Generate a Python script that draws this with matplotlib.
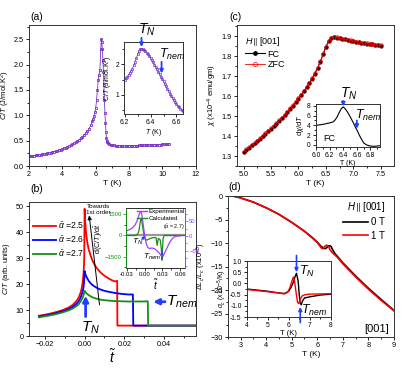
import numpy as np
import matplotlib
matplotlib.use('Agg')
import matplotlib.pyplot as plt
from matplotlib.ticker import MultipleLocator, FormatStrFormatter
from matplotlib.lines import Line2D

plt.rcParams['font.family'] = ['Liberation Sans', 'DejaVu Sans']
plt.rcParams['mathtext.fontset'] = 'custom'
plt.rcParams['mathtext.rm'] = 'Liberation Sans'
plt.rcParams['mathtext.it'] = 'Liberation Sans:italic'
plt.rcParams['mathtext.bf'] = 'Liberation Sans:bold'
plt.rcParams['axes.linewidth'] = 0.7
plt.rcParams['axes.edgecolor'] = '#333333'

purple = '#7B35C8'
purple2 = '#A040FF'
blue = '#2040FF'
green = '#1A8C1A'

# ---- (a) specific heat ----
T_a = [2.0, 2.1, 2.2, 2.3, 2.4, 2.5, 2.6, 2.7, 2.8, 2.9, 3.0, 3.1, 3.2, 3.3, 3.4, 3.5,
       3.6, 3.7, 3.8, 3.9, 4.0, 4.1, 4.2, 4.3, 4.4, 4.5, 4.6, 4.7, 4.8, 4.9, 5.0, 5.1,
       5.2, 5.3, 5.4, 5.5, 5.6, 5.7, 5.8, 5.85, 5.9, 5.95, 6.0, 6.05, 6.1, 6.15, 6.2,
       6.25, 6.3, 6.33, 6.36, 6.4, 6.43, 6.46, 6.49, 6.52, 6.55, 6.58, 6.61, 6.64, 6.67,
       6.7, 6.75, 6.8, 6.9, 7.0, 7.1, 7.2, 7.3, 7.4, 7.5, 7.6, 7.7, 7.8, 7.9, 8.0, 8.1,
       8.2, 8.3, 8.4, 8.5, 8.6, 8.7, 8.8, 8.9, 9.0, 9.1, 9.2, 9.3, 9.4, 9.5, 9.6, 9.7,
       9.8, 9.9, 10.0, 10.1, 10.2, 10.3, 10.4]
C_a = [0.19, 0.195, 0.2, 0.205, 0.21, 0.215, 0.22, 0.225, 0.23, 0.235, 0.24, 0.25, 0.26,
       0.265, 0.275, 0.285, 0.295, 0.305, 0.315, 0.325, 0.34, 0.35, 0.365, 0.38, 0.395,
       0.41, 0.43, 0.45, 0.47, 0.49, 0.52, 0.55, 0.58, 0.61, 0.65, 0.69, 0.74, 0.8, 0.88,
       0.93, 0.99, 1.06, 1.15, 1.3, 1.5, 1.7, 1.8, 1.9, 2.3, 2.5, 2.45, 2.3, 2.1, 1.85,
       1.6, 1.3, 1.05, 0.85, 0.68, 0.56, 0.5, 0.47, 0.45, 0.435, 0.42, 0.415, 0.41, 0.405,
       0.405, 0.4, 0.4, 0.4, 0.4, 0.4, 0.4, 0.4, 0.4, 0.4, 0.405, 0.405, 0.405, 0.41, 0.41,
       0.41, 0.41, 0.415, 0.415, 0.415, 0.42, 0.42, 0.42, 0.42, 0.425, 0.425, 0.425, 0.43,
       0.43, 0.43, 0.435, 0.435]

T_ai = [6.20, 6.21, 6.22, 6.23, 6.24, 6.25, 6.26, 6.27, 6.28, 6.29, 6.30, 6.31, 6.32,
        6.33, 6.34, 6.35, 6.36, 6.37, 6.38, 6.39, 6.40, 6.41, 6.42, 6.43, 6.44, 6.45,
        6.46, 6.47, 6.48, 6.49, 6.50, 6.51, 6.52, 6.53, 6.54, 6.55, 6.56, 6.57, 6.58,
        6.59, 6.60, 6.61, 6.62, 6.63, 6.64, 6.65]
C_ai = [1.50, 1.55, 1.60, 1.66, 1.72, 1.78, 1.86, 1.96, 2.08, 2.20, 2.32, 2.42, 2.48,
        2.50, 2.49, 2.46, 2.42, 2.37, 2.32, 2.26, 2.20, 2.13, 2.06, 1.99, 1.91, 1.83,
        1.75, 1.67, 1.60, 1.52, 1.44, 1.36, 1.28, 1.20, 1.12, 1.04, 0.97, 0.90, 0.83,
        0.76, 0.70, 0.65, 0.60, 0.56, 0.52, 0.49]

# ---- (b) model curves ----
t_r = [-0.023, -0.020, -0.017, -0.014, -0.011, -0.008, -0.006, -0.004, -0.003, -0.002,
       -0.0015, -0.001, -0.0005, -0.0002, 0.0, 0.0003, 0.0007, 0.001, 0.0015, 0.002,
       0.003, 0.004, 0.005, 0.006, 0.008, 0.010, 0.012, 0.014, 0.0155, 0.0164, 0.0165, 0.056]
c_r = [7.8, 8.2, 8.7, 9.3, 10.0, 11.0, 12.0, 13.6, 14.8, 16.8, 18.3, 20.5, 24.5, 30.0,
       49.0, 44.0, 40.0, 38.0, 35.5, 33.5, 31.0, 29.0, 27.5, 26.3, 24.5, 23.2, 22.2, 21.4,
       21.0, 21.3, 4.0, 4.0]
t_bl = [-0.023, -0.020, -0.017, -0.014, -0.011, -0.008, -0.006, -0.004, -0.003, -0.002,
        -0.001, -0.0005, -0.0002, 0.0, 0.0005, 0.001, 0.002, 0.003, 0.004, 0.006, 0.008,
        0.010, 0.013, 0.016, 0.019, 0.022, 0.0243, 0.0245, 0.056]
c_bl = [7.5, 7.9, 8.3, 8.9, 9.5, 10.4, 11.2, 12.5, 13.4, 14.8, 17.0, 19.0, 21.5, 25.0,
        23.6, 22.7, 21.3, 20.3, 19.6, 18.6, 17.9, 17.4, 16.9, 16.5, 16.2, 16.0, 16.0, 4.0, 4.0]
t_g = [-0.023, -0.020, -0.017, -0.014, -0.011, -0.008, -0.006, -0.004, -0.003, -0.002,
       -0.001, -0.0005, 0.0, 0.0005, 0.001, 0.002, 0.003, 0.004, 0.006, 0.008, 0.010,
       0.014, 0.018, 0.022, 0.026, 0.030, 0.0318, 0.032, 0.056]
c_g = [7.2, 7.6, 8.0, 8.5, 9.1, 9.9, 10.6, 11.6, 12.3, 13.3, 14.8, 15.9, 17.4, 16.8, 16.4,
       15.8, 15.3, 14.9, 14.4, 14.0, 13.8, 13.5, 13.4, 13.3, 13.3, 13.3, 13.4, 4.0, 4.0]
alpha_labels = [r'$\bar{\alpha}$ =2.5', r'$\bar{\alpha}$ =2.6', r'$\bar{\alpha}$ =2.7']

# (b) inset: derivative
t_calc = [-0.031, -0.015, -0.012, -0.010, -0.008, -0.0065, -0.005, -0.003, -0.001, 0.001,
          0.003, 0.006, 0.010, 0.015, 0.019, 0.021, 0.023, 0.026, 0.028, 0.029, 0.030,
          0.031, 0.033, 0.068]
d_calc = [0, 0, 80, 300, 800, 1200, 1050, 500, 0, -250, -330, -280, -200, -150, -150,
          -700, -200, -300, -900, -1750, -1000, -200, 0, 0]
t_exp = [-0.030, -0.025, -0.020, -0.016, -0.013, -0.010, -0.008, -0.0065, -0.005, -0.003,
         -0.001, 0.001, 0.003, 0.005, 0.008, 0.012, 0.016, 0.020, 0.024, 0.027, 0.029,
         0.031, 0.034, 0.038, 0.042, 0.046, 0.050, 0.055, 0.060]
d_exp = [18, 22, 28, 38, 50, 68, 80, 82, 72, 45, 15, -10, -28, -38, -42, -40, -42, -48,
         -56, -63, -68, -66, -55, -38, -22, -10, -3, 0, 0]

# ---- (c) susceptibility ----
T_c = [5.00, 5.05, 5.10, 5.15, 5.20, 5.25, 5.30, 5.35, 5.40, 5.45, 5.50, 5.55, 5.60,
       5.65, 5.70, 5.75, 5.80, 5.85, 5.90, 5.95, 6.00, 6.05, 6.10, 6.15, 6.20, 6.25,
       6.30, 6.35, 6.40, 6.45, 6.50, 6.55, 6.60, 6.65, 6.70, 6.75, 6.80, 6.85, 6.90,
       6.95, 7.00, 7.05, 7.10, 7.15, 7.20, 7.25, 7.30, 7.35, 7.40, 7.45, 7.50]
chi_fc = [1.320, 1.331, 1.342, 1.353, 1.364, 1.375, 1.387, 1.399, 1.411, 1.423, 1.436,
          1.449, 1.462, 1.476, 1.490, 1.505, 1.520, 1.536, 1.552, 1.569, 1.587, 1.605,
          1.624, 1.644, 1.665, 1.687, 1.712, 1.740, 1.772, 1.808, 1.845, 1.874, 1.890,
          1.893, 1.892, 1.889, 1.886, 1.883, 1.880, 1.877, 1.874, 1.871, 1.869, 1.866,
          1.864, 1.862, 1.860, 1.858, 1.856, 1.854, 1.852]
chi_zfc = [1.322, 1.333, 1.344, 1.355, 1.366, 1.377, 1.389, 1.401, 1.413, 1.425, 1.438,
           1.451, 1.464, 1.478, 1.492, 1.507, 1.522, 1.538, 1.554, 1.571, 1.589, 1.607,
           1.626, 1.646, 1.667, 1.689, 1.714, 1.742, 1.774, 1.810, 1.846, 1.875, 1.891,
           1.894, 1.893, 1.890, 1.887, 1.884, 1.881, 1.878, 1.875, 1.872, 1.870, 1.867,
           1.865, 1.863, 1.861, 1.859, 1.857, 1.855, 1.853]

T_ci = [6.00, 6.05, 6.10, 6.15, 6.20, 6.25, 6.28, 6.31, 6.34, 6.37, 6.40, 6.43, 6.46,
        6.49, 6.52, 6.55, 6.58, 6.61, 6.64, 6.67, 6.70, 6.74, 6.78, 6.82, 6.86, 6.90, 6.94]
dchi = [4.0, 4.1, 4.2, 4.35, 4.5, 4.7, 5.1, 5.7, 6.6, 7.4, 7.8, 7.4, 6.8, 6.1, 5.3, 4.5,
        3.6, 2.8, 1.9, 1.1, 0.4, 0.0, -0.2, -0.3, -0.3, -0.25, -0.2]

# ---- (d) thermal expansion ----
T_d = [2.7, 3.0, 3.5, 4.0, 4.5, 5.0, 5.5, 5.8, 6.0, 6.1, 6.15, 6.2, 6.25, 6.3, 6.35, 6.4,
       6.45, 6.5, 6.55, 6.6, 6.7, 6.8, 7.0, 7.5, 8.0, 8.5, 9.0]
dL_0T = [0.0, -0.4, -1.3, -2.5, -3.9, -5.6, -7.5, -8.8, -9.8, -10.4, -10.7, -10.9, -11.1,
         -11.2, -11.1, -10.8, -10.6, -10.6, -10.8, -11.4, -12.3, -12.9, -14.2, -17.0, -19.6,
         -22.0, -24.3]
dL_1T = [0.0, -0.4, -1.3, -2.5, -3.9, -5.6, -7.5, -8.9, -9.9, -10.6, -11.0, -11.2, -11.0,
         -10.7, -10.5, -10.5, -10.8, -11.4, -11.8, -12.1, -12.6, -13.1, -14.4, -17.2, -19.8,
         -22.2, -24.4]

T_di_0T = [4.0, 4.5, 5.0, 5.5, 5.8, 6.0, 6.1, 6.2, 6.3, 6.37, 6.45, 6.5, 6.55, 6.6, 6.65,
           6.75, 7.0, 7.5, 8.0]
a_0T = [-0.25, -0.3, -0.35, -0.42, -0.45, -0.35, -0.2, 0.0, 0.3, 0.45, 0.1, -0.5, -0.9,
        -0.95, -0.8, -0.65, -0.6, -0.52, -0.48]
T_di_1T = [4.0, 4.5, 5.0, 5.5, 5.8, 5.95, 6.05, 6.15, 6.22, 6.28, 6.35, 6.42, 6.48, 6.55,
           6.65, 6.8, 7.0, 7.5, 8.0]
a_1T = [-0.27, -0.32, -0.37, -0.43, -0.47, -0.4, -0.2, 0.1, 0.28, 0.1, -0.4, -0.85, -0.9,
        -0.7, -0.55, -0.5, -0.48, -0.47, -0.46]


def style(ax, xmaj, xmin, ymaj, ymin, fs=5.2):
    ax.xaxis.set_major_locator(MultipleLocator(xmaj))
    ax.xaxis.set_minor_locator(MultipleLocator(xmin))
    ax.yaxis.set_major_locator(MultipleLocator(ymaj))
    ax.yaxis.set_minor_locator(MultipleLocator(ymin))
    ax.tick_params(which='both', direction='out', top=False, right=False,
                   labelsize=fs, width=0.6, pad=1.2)
    ax.tick_params(which='major', length=2.5)
    ax.tick_params(which='minor', length=1.4)


def arrow(ax, xy, xytext, color=blue, lw=1.6, ms=6):
    ax.annotate('', xy=xy, xytext=xytext, annotation_clip=False,
                arrowprops=dict(arrowstyle='-|>', color=color, lw=lw,
                                mutation_scale=ms, shrinkA=0, shrinkB=0))


fig = plt.figure(figsize=(4.15, 3.74), dpi=100)

# (a)
ax = fig.add_axes([0.0699, 0.556, 0.402, 0.377])
ax.plot(T_a, C_a, '-s', color=purple, ms=2.0, mfc='none', mew=0.6, lw=0.6)
ax.set_xlim(2, 12)
ax.set_ylim(0, 2.78)
style(ax, 2, 1, 0.5, 0.25)
ax.set_xlabel('T (K)', fontsize=6, labelpad=1.5)
ax.set_ylabel(r'$C/T$ (J/mol.K$^2$)', fontsize=5.5, labelpad=1)

axi = fig.add_axes([0.2988, 0.695, 0.142, 0.1925])
axi.plot(T_ai, C_ai, '-s', color=purple, ms=1.6, mfc='none', mew=0.5, lw=0.5)
axi.set_xlim(6.195, 6.65)
axi.set_ylim(0.38, 2.72)
style(axi, 0.2, 0.1, 1, 0.5, fs=4.8)
axi.set_xlabel(r'$T$ (K)', fontsize=5, labelpad=0.5)
axi.set_ylabel(r'$C/T$ (J/mol.K$^2$)', fontsize=5, labelpad=0.5)
arrow(axi, (6.33, 2.56), (6.33, 2.86), ms=5, lw=1.3)
axi.text(6.305, 2.86, r'$T_N$', fontsize=10, va='bottom', ha='left')
arrow(axi, (6.485, 1.7), (6.485, 2.08), ms=5, lw=1.3)
axi.text(6.465, 2.06, r'$T_{nem}$', fontsize=9, va='bottom', ha='left')

fig.text(0.072, 0.955, '(a)', fontsize=7.5, va='center')

# (b)
ax = fig.add_axes([0.0699, 0.1016, 0.402, 0.358])
ax.plot(t_r, c_r, color='red', lw=1.3, label=alpha_labels[0])
ax.plot(t_bl, c_bl, color='blue', lw=1.3, label=alpha_labels[1])
ax.plot(t_g, c_g, color=green, lw=1.3, label=alpha_labels[2])
ax.set_xlim(-0.028, 0.056)
ax.set_ylim(0, 51.6)
style(ax, 0.02, 0.01, 10, 5)
ax.set_xlabel(r'$\tilde{t}$', fontsize=10, labelpad=0)
ax.set_ylabel(r'$C/T$ (arb. units)', fontsize=5.5, labelpad=3)
ax.legend(loc='center left', bbox_to_anchor=(0.005, 0.72), frameon=False, fontsize=6.2,
          handlelength=2.6, handletextpad=0.3, labelspacing=0.35, borderaxespad=0)
arrow(ax, (0.0023, 46.5), (0.0075, 12), color='k', lw=0.7, ms=6)
ax.text(0.0009, 51, 'Towards\n1st order', fontsize=4.5, va='top', ha='left', linespacing=1.3)
arrow(ax, (0.0005, 15.5), (0.0005, 7.5), lw=2, ms=8)
ax.text(-0.002, 6.5, r'$T_N$', fontsize=11, va='top', ha='left')
arrow(ax, (0.0345, 13.2), (0.0405, 13.2), lw=2, ms=8)
ax.text(0.0412, 13.2, r'$T_{nem}$', fontsize=11, va='center', ha='left')

axi = fig.add_axes([0.3036, 0.2834, 0.1422, 0.160])
axi.axhline(0, color='#999999', lw=1.6, zorder=0)
axi.plot(t_calc, d_calc, color=green, lw=0.9)
axi.set_xlim(-0.0316, 0.068)
axi.set_ylim(-2300, 1930)
axi.set_xticks([-0.03, 0.0, 0.03, 0.06])
axi.set_xticklabels(['-0.03', '0.00', '0.03', '0.06'])
axi.xaxis.set_minor_locator(MultipleLocator(0.015))
axi.set_yticks([-1500, 0, 1500])
axi.yaxis.set_minor_locator(MultipleLocator(750))
axi.tick_params(which='both', direction='out', top=False, labelsize=4.3, width=0.5, pad=1)
axi.tick_params(which='major', length=2)
axi.tick_params(which='minor', length=1.1)
axi.tick_params(axis='y', colors=green)
axi.spines['left'].set_color(green)
axi.set_xlabel(r'$\tilde{t}$', fontsize=7, labelpad=0)
axi.set_ylabel(r'd($C/T$)/d$\tilde{t}$', fontsize=5.2, labelpad=0)
axr = axi.twinx()
axr.plot(t_exp, d_exp, color=purple2, lw=0.9)
axr.set_ylim(-107, 93)
axr.set_yticks([-50, 0, 50])
axr.yaxis.set_minor_locator(MultipleLocator(25))
axr.tick_params(which='both', direction='out', labelsize=4.3, width=0.5, pad=1, colors=purple2)
axr.tick_params(which='major', length=2)
axr.tick_params(which='minor', length=1.1)
axr.spines['right'].set_color(purple2)
axr.spines['left'].set_color(green)
h = [Line2D([], [], color=purple2, lw=1), Line2D([], [], color=green, lw=1)]
axr.legend(h, ['Experimental', 'Calculated'], loc='upper right', bbox_to_anchor=(1.04, 1.03),
           frameon=False, fontsize=4.5, handlelength=1.6, handletextpad=0.3,
           labelspacing=0.3, borderaxespad=0)
axi.text(0.049, 550, r'($\bar{\alpha}$ = 2.7)', fontsize=3.8, ha='center', va='center')
axi.text(-0.0125, -430, r'$T_N$', fontsize=6, ha='center', va='center')
arrow(axi, (0.0015, -30), (-0.005, -280), lw=0.9, ms=4)
axi.text(0.0275, -1500, r'$T_{nem}$', fontsize=6, ha='right', va='center')
arrow(axi, (0.0295, -1650), (0.0295, -1100), lw=0.9, ms=4)

fig.text(0.072, 0.495, '(b)', fontsize=7.5, va='center')

# (c)
ax = fig.add_axes([0.571, 0.556, 0.378, 0.377])
ax.plot(T_c, chi_fc, '-o', color='k', ms=2.0, lw=0.8, label='FC')
ax.plot(T_c, chi_zfc, '-o', color='red', mfc='none', ms=2.6, mew=0.5, lw=0.6, label='ZFC')
ax.set_xlim(4.88, 7.74)
ax.set_ylim(1.25, 1.955)
style(ax, 0.5, 0.25, 0.1, 0.05)
ax.xaxis.set_major_formatter(FormatStrFormatter('%.1f'))
ax.set_xlabel('T (K)', fontsize=6, labelpad=1.5)
ax.set_ylabel(r'$\chi$ (x10$^{-4}$ emu/gm)', fontsize=5.5, labelpad=1.5)
ax.legend(loc='upper left', bbox_to_anchor=(0.0, 0.985), frameon=False, fontsize=6.5,
          title=r'$H\parallel$[001]', title_fontsize=6.5, alignment='left',
          handlelength=2.2, handletextpad=0.3, labelspacing=0.15, markerscale=1.2)

axi = fig.add_axes([0.7614, 0.607, 0.1542, 0.115])
axi.plot(T_ci, dchi, color='k', lw=0.8)
axi.set_xlim(6.0, 6.94)
axi.set_ylim(-0.45, 8.4)
style(axi, 0.2, 0.1, 2, 1, fs=4.8)
axi.set_xlabel('T (K)', fontsize=5, labelpad=0.5)
axi.set_ylabel(r'd$\chi$/d$T$', fontsize=5.5, labelpad=0.5)
axi.text(0.12, 0.14, 'FC', transform=axi.transAxes, fontsize=6.5)
arrow(axi, (6.4, 7.9), (6.4, 9.0), ms=5, lw=1.3)
axi.text(6.36, 8.9, r'$T_N$', fontsize=10, va='bottom', ha='left')
arrow(axi, (6.6, 3.3), (6.6, 5.0), ms=5, lw=1.3)
axi.text(6.58, 4.5, r'$T_{nem}$', fontsize=9, va='bottom', ha='left')

fig.text(0.552, 0.955, '(c)', fontsize=7.5, va='center')

# (d)
ax = fig.add_axes([0.549, 0.0989, 0.4, 0.377])
ax.plot(T_d, dL_0T, color='k', lw=1.2, label='0 T')
ax.plot(T_d, dL_1T, color='red', lw=1.2, label='1 T')
ax.set_xlim(2.5, 9)
ax.set_ylim(-30, 0)
style(ax, 1, 0.5, 5, 2.5)
ax.set_xlabel('T (K)', fontsize=6, labelpad=1.5)
ax.set_ylabel(r'$\Delta L_c/L_c$ (x10$^{-5}$)', fontsize=5.3, labelpad=2)
ax.legend(loc='upper right', bbox_to_anchor=(1.0, 1.035), frameon=False, fontsize=7,
          title=r'$H\parallel$[001]', title_fontsize=7, alignment='right',
          handlelength=2.6, handletextpad=0.3, labelspacing=0.35)
ax.text(0.97, 0.06, '[001]', transform=ax.transAxes, fontsize=8, ha='right', va='center')

axi = fig.add_axes([0.5945, 0.1524, 0.2024, 0.1497])
axi.plot(T_di_0T, a_0T, color='k', lw=1.0)
axi.plot(T_di_1T, a_1T, color='red', lw=1.0)
axi.set_xlim(4, 8)
axi.set_ylim(-1.5, 1.0)
style(axi, 1, 0.5, 0.5, 0.25, fs=4.8)
axi.yaxis.set_major_formatter(FormatStrFormatter('%.1f'))
axi.set_xlabel('T (K)', fontsize=5.5, labelpad=0.5)
axi.set_ylabel(r'$\alpha_c$ (x10$^{-5}$/K)', fontsize=5, labelpad=0.5)
arrow(axi, (6.37, 0.5), (6.37, 1.25), ms=5, lw=1.2)
axi.text(6.5, 0.55, r'$T_N$', fontsize=9, va='center', ha='left')
arrow(axi, (6.55, -1.05), (6.55, -1.75), ms=5, lw=1.2)
axi.text(6.6, -1.2, r'$T_{nem}$', fontsize=9, va='center', ha='left')

fig.text(0.55, 0.5, '(d)', fontsize=7.5, va='center')

fig.savefig('out.png', dpi=100)
